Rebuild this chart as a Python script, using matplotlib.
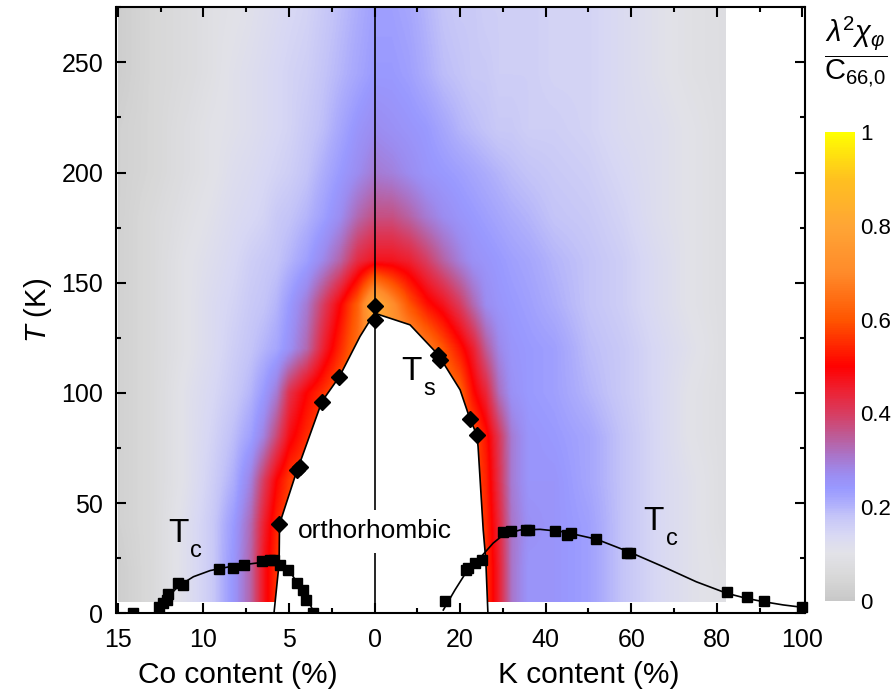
import numpy as np
import matplotlib
matplotlib.use("Agg")
import matplotlib.pyplot as plt
from matplotlib.colors import LinearSegmentedColormap
import matplotlib.transforms as mtransforms

plt.rcParams['font.family'] = ['Liberation Sans', 'DejaVu Sans']
plt.rcParams['mathtext.fontset'] = 'custom'
plt.rcParams['mathtext.rm'] = 'Liberation Sans'
plt.rcParams['mathtext.it'] = 'Liberation Sans:italic'
plt.rcParams['mathtext.bf'] = 'Liberation Sans:bold'

# ---------------- data ----------------
# combined x axis: left half = -4 * Co content (%), right half = K content (%)
co_scale = 4.0

# structural transition Ts (diamonds)
ts_co = [0.0, 0.0, 2.07, 3.05, 4.35, 4.54, 5.56]
ts_co_T = [139.3, 133.2, 107.4, 96.1, 66.6, 65.1, 40.5]
ts_k = [14.9, 15.3, 22.3, 24.0]
ts_k_T = [117.3, 115.0, 88.1, 80.8]

# Ts phase line (combined x)
ts_line_x = [-23.5, -22.3, -22.2, -18.6, -12.3, -8.2, -3.4, 0.0, 8.3, 14.9,
             20.0, 22.3, 23.9, 24.2, 25.4, 26.0, 26.5]
ts_line_T = [0.0, 22.7, 40.5, 62.0, 96.1, 107.4, 125.6, 136.2, 130.9, 117.3,
             101.4, 88.2, 81.0, 75.6, 37.8, 24.2, 0.0]

# superconducting Tc (squares)
tc_co = [14.14, 12.62, 12.33, 12.13, 12.04, 11.51, 11.2, 9.06, 8.28, 7.6,
         6.59, 6.1, 5.9, 5.52, 5.03, 4.54, 4.16, 4.0, 3.57]
tc_co_T = [0.3, 3.0, 4.5, 6.0, 8.6, 13.9, 12.9, 20.0, 20.4, 21.9,
           23.9, 24.2, 24.2, 21.9, 19.7, 13.6, 10.6, 6.0, 0.3]
tc_k = [16.5, 21.4, 21.9, 23.5, 25.0, 30.1, 31.9, 35.5, 36.2, 42.2, 44.9,
        45.9, 51.7, 58.9, 59.8, 82.4, 87.1, 91.0, 99.8]
tc_k_T = [5.7, 19.7, 20.4, 23.0, 24.2, 36.8, 37.5, 37.8, 37.8, 37.4, 35.6,
          36.3, 33.6, 27.5, 27.5, 9.5, 7.5, 5.7, 2.7]

# Tc guide lines
tcl_co = [12.72, 12.13, 11.45, 10.58, 9.6, 8.24, 6.68, 5.9, 5.42, 4.93, 4.45, 3.96, 3.57]
tcl_co_T = [1.5, 6.8, 12.4, 16.6, 19.4, 21.5, 23.0, 23.3, 21.9, 18.9, 12.9, 7.5, 0.7]
tcl_k = [16.07, 18.8, 21.5, 24.6, 27.7, 30.1, 34.0, 38.7, 44.1, 51.9, 59.7,
         67.4, 75.2, 82.3, 86.9, 90.8, 95.5, 100.5]
tcl_k_T = [1.5, 10.6, 18.9, 25.0, 31.8, 35.6, 37.8, 38.1, 37.0, 33.6, 27.7,
           21.2, 14.3, 9.1, 6.8, 5.3, 3.8, 2.6]

# colour map field lambda^2 chi / C66,0 read on a grid (combined x, T)
grid_x = [-60, -52, -44, -38, -33, -29, -26, -23, -20, -16, -12, -8, -4, 0,
          4, 8, 12, 16, 20, 23, 26, 29, 32, 36, 42, 50, 58, 66, 74, 82]
grid_T = [5, 20, 40, 60, 80, 100, 120, 140, 160, 180, 200, 220, 245, 275]
grid_v = [
    [.02, .06, .12, .17, .25, .34, .47, .56, .60, .60, .60, .60, .60, .60, .60, .60, .60, .60, .60, .60, .56, .45, .31, .25, .25, .23, .18, .14, .11, .09],
    [.02, .06, .12, .17, .25, .34, .47, .56, .60, .60, .60, .60, .60, .60, .60, .60, .60, .60, .60, .60, .56, .45, .31, .25, .25, .23, .18, .14, .11, .09],
    [.03, .06, .12, .17, .24, .33, .45, .54, .60, .60, .60, .60, .60, .60, .60, .60, .60, .60, .60, .60, .55, .44, .31, .26, .25, .23, .18, .14, .11, .08],
    [.03, .06, .11, .16, .21, .29, .40, .50, .57, .60, .60, .60, .60, .60, .60, .60, .60, .60, .60, .60, .54, .42, .30, .25, .25, .22, .18, .14, .11, .08],
    [.03, .06, .11, .15, .19, .23, .29, .38, .48, .55, .60, .60, .60, .60, .60, .60, .60, .62, .62, .60, .52, .41, .30, .25, .24, .22, .18, .14, .10, .08],
    [.03, .06, .11, .14, .17, .20, .24, .30, .42, .50, .56, .62, .65, .68, .68, .68, .68, .68, .62, .51, .44, .32, .26, .24, .23, .20, .17, .14, .10, .08],
    [.03, .06, .10, .13, .16, .18, .20, .22, .26, .33, .45, .55, .65, .78, .78, .75, .68, .60, .52, .45, .35, .28, .25, .24, .23, .19, .17, .14, .11, .08],
    [.03, .06, .10, .13, .15, .17, .18, .20, .24, .30, .40, .50, .62, .85, .72, .60, .52, .47, .40, .33, .27, .25, .24, .23, .21, .18, .16, .13, .10, .08],
    [.03, .06, .10, .12, .14, .16, .17, .18, .20, .23, .28, .34, .43, .47, .47, .45, .40, .34, .29, .26, .25, .24, .23, .22, .20, .18, .16, .13, .10, .08],
    [.03, .06, .09, .11, .13, .14, .15, .17, .18, .20, .23, .27, .33, .37, .37, .34, .30, .27, .25, .24, .23, .22, .21, .20, .18, .17, .15, .12, .10, .08],
    [.03, .05, .08, .10, .12, .13, .14, .15, .16, .18, .21, .24, .27, .30, .29, .27, .25, .24, .23, .22, .21, .20, .19, .18, .17, .16, .14, .12, .10, .08],
    [.03, .05, .08, .10, .11, .12, .13, .14, .15, .17, .19, .22, .25, .27, .26, .25, .24, .22, .20, .19, .18, .17, .17, .16, .16, .15, .13, .12, .10, .08],
    [.02, .05, .07, .09, .11, .12, .13, .14, .15, .16, .18, .20, .22, .24, .24, .23, .21, .19, .18, .17, .17, .16, .16, .16, .15, .15, .13, .11, .09, .08],
    [.02, .05, .07, .09, .10, .11, .12, .13, .14, .15, .17, .19, .21, .23, .23, .22, .20, .18, .17, .17, .16, .16, .16, .16, .15, .15, .13, .11, .09, .08],
]

x_ticks = [-60, -40, -20, 0, 20, 40, 60, 80, 100]
x_tick_labels = ['15', '10', '5', '0', '20', '40', '60', '80', '100']
x_minor = [-50, -30, -10, 10, 30, 50, 70, 90]
y_ticks = [0, 50, 100, 150, 200, 250]
y_minor = [25, 75, 125, 175, 225, 275]
cb_ticks = [0, 0.2, 0.4, 0.6, 0.8, 1.0]
cb_tick_labels = ['0', '0.2', '0.4', '0.6', '0.8', '1']

# ---------------- colormap ----------------
cmap = LinearSegmentedColormap.from_list('chi', [
    (0.00, '#c8c8c8'), (0.05, '#d8d8d8'), (0.10, '#e2e2e8'), (0.14, '#d8d8f4'),
    (0.18, '#c4c4f8'), (0.21, '#acacfc'), (0.24, '#9999ff'), (0.27, '#9c8cf0'),
    (0.31, '#aa74c8'), (0.35, '#bc5c98'), (0.40, '#d83c60'), (0.45, '#ee2030'),
    (0.50, '#ff0000'), (0.60, '#ff5500'), (0.70, '#ff8a2a'), (0.80, '#ffa535'),
    (0.90, '#ffc020'), (1.00, '#ffff00')])

# ---------------- figure ----------------
W, H = 895, 691
fig = plt.figure(figsize=(W / 100, H / 100), dpi=100)
ax = fig.add_axes([116.5 / W, 1 - 613.3 / H, (805 - 116.5) / W, (613.3 - 7.3) / H])

gx = np.array(grid_x, float)
gT = np.array(grid_T, float)
gv = np.array(grid_v, float)
xf = np.linspace(gx[0], gx[-1], 720)
tf = np.linspace(gT[0], gT[-1], 560)
rows = np.array([np.interp(xf, gx, r) for r in gv])
field = np.array([np.interp(tf, gT, rows[:, j]) for j in range(len(xf))]).T
im = ax.imshow(field, extent=[gx[0], gx[-1], gT[0], gT[-1]], origin='lower',
               aspect='auto', cmap=cmap, vmin=0, vmax=1,
               interpolation='bilinear', zorder=0)

# orthorhombic dome (white)
ax.fill(ts_line_x, ts_line_T, color='white', zorder=1, lw=0)

# divider line at zero doping
ax.axvline(0, color='black', lw=1.2, zorder=2)

ax.text(0, 34, 'orthorhombic', fontsize=19, ha='center', va='baseline', zorder=3,
        bbox=dict(boxstyle='square,pad=0.35', fc='white', ec='none'))

# lines
ax.plot(ts_line_x, ts_line_T, color='black', lw=1.2, zorder=4)
ax.plot([-co_scale * c for c in tcl_co], tcl_co_T, color='black', lw=1.2, zorder=4)
ax.plot(tcl_k, tcl_k_T, color='black', lw=1.2, zorder=4, clip_on=False)

# markers
ax.plot([-co_scale * c for c in ts_co], ts_co_T, 'D', color='black', ms=8.5, zorder=5)
ax.plot(ts_k, ts_k_T, 'D', color='black', ms=8.5, zorder=5)
ax.plot([-co_scale * c for c in tc_co], tc_co_T, 's', color='black', ms=6.5, zorder=5)
ax.plot(tc_k, tc_k_T, 's', color='black', ms=6.5, zorder=5, clip_on=False)

# labels inside
ax.text(6.35, 105.9, 'T', fontsize=24, ha='left', va='baseline', zorder=6)
ax.text(11.3, 98.9, 's', fontsize=17, ha='left', va='baseline', zorder=6)
ax.text(-48.2, 32.4, 'T', fontsize=24, ha='left', va='baseline', zorder=6)
ax.text(-43.1, 25.6, 'c', fontsize=17, ha='left', va='baseline', zorder=6)
ax.text(62.7, 37.8, 'T', fontsize=24, ha='left', va='baseline', zorder=6)
ax.text(68.0, 31.0, 'c', fontsize=17, ha='left', va='baseline', zorder=6)

ax.set_xlim(-60.3, 100.6)
ax.set_ylim(0, 275)
ax.set_xticks(x_ticks)
ax.set_xticklabels(x_tick_labels)
ax.set_xticks(x_minor, minor=True)
ax.set_yticks(y_ticks)
ax.set_yticks(y_minor, minor=True)
ax.tick_params(which='both', direction='in', top=True, right=True, width=1.5)
ax.tick_params(which='major', length=7)
ax.tick_params(which='minor', length=3.5)
ax.tick_params(axis='x', which='major', labelsize=18, pad=10.5)
ax.tick_params(axis='y', which='major', labelsize=18, pad=9.5)
for sp in ax.spines.values():
    sp.set_linewidth(1.5)
ax.set_ylabel(r'$T$ (K)', fontsize=21, labelpad=5)

trans = mtransforms.blended_transform_factory(ax.transData, fig.transFigure)
fig.text(-32, 8.0 / H, 'Co content (%)', transform=trans, fontsize=21.5,
         ha='center', va='baseline')
fig.text(50, 8.0 / H, 'K content (%)', transform=trans, fontsize=21.5,
         ha='center', va='baseline')

# colorbar
cax = fig.add_axes([825 / W, 1 - 601 / H, 30 / W, (601 - 132) / H])
cb = fig.colorbar(im, cax=cax, ticks=cb_ticks)
cb.set_ticklabels(cb_tick_labels)
cb.outline.set_visible(False)
cb.ax.tick_params(length=0, labelsize=16, pad=4)

fig.text(856 / W, 1 - 52 / H,
         r'$\dfrac{\lambda^{2}\chi_{\varphi}}{\mathrm{C}_{\mathit{66{,}0}}}$',
         fontsize=21, ha='center', va='center')

fig.savefig('out.png', dpi=100)
